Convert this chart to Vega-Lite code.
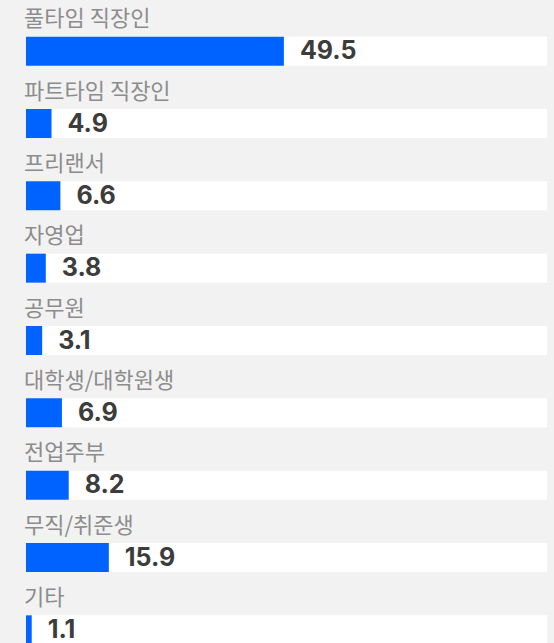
{
  "$schema": "https://vega.github.io/schema/vega-lite/v6.json",
  "width": 521,
  "height": 651,
  "autosize": {"type": "none"},
  "padding": {"left": 26, "top": 15, "right": 7, "bottom": 0},
  "background": "#f2f2f2",
  "config": {"view": {"stroke": null}},
  "data": {
    "values": [
      {"category": "풀타임 직장인", "value": 49.5},
      {"category": "파트타임 직장인", "value": 4.9},
      {"category": "프리랜서", "value": 6.6},
      {"category": "자영업", "value": 3.8},
      {"category": "공무원", "value": 3.1},
      {"category": "대학생/대학원생", "value": 6.9},
      {"category": "전업주부", "value": 8.2},
      {"category": "무직/취준생", "value": 15.9},
      {"category": "기타", "value": 1.1}
    ]
  },
  "encoding": {
    "y": {
      "field": "category",
      "type": "nominal",
      "sort": null,
      "scale": {"paddingInner": 0, "paddingOuter": 0},
      "axis": null
    }
  },
  "layer": [
    {
      "mark": {"type": "bar", "color": "#ffffff", "height": 29},
      "encoding": {
        "x": {"datum": 0, "type": "quantitative", "scale": {"domain": [0, 100]}, "axis": null},
        "x2": {"datum": 100}
      }
    },
    {
      "mark": {"type": "bar", "color": "#0063ff", "height": 29},
      "encoding": {
        "x": {"field": "value", "type": "quantitative", "scale": {"domain": [0, 100]}, "axis": null}
      }
    },
    {
      "mark": {"type": "text", "align": "left", "baseline": "middle", "dx": 16, "dy": 0, "font": "Inter", "fontWeight": "bold", "fontSize": 25, "color": "#3c3c3c"},
      "encoding": {
        "x": {"field": "value", "type": "quantitative"},
        "text": {"field": "value", "type": "quantitative", "format": ".1f"}
      }
    },
    {
      "mark": {"type": "text", "align": "left", "baseline": "middle", "dx": -2, "dy": -32, "font": "Noto Sans CJK KR", "fontSize": 22, "color": "#8c8c8c"},
      "encoding": {
        "x": {"datum": 0, "type": "quantitative"},
        "text": {"field": "category"}
      }
    }
  ]
}
